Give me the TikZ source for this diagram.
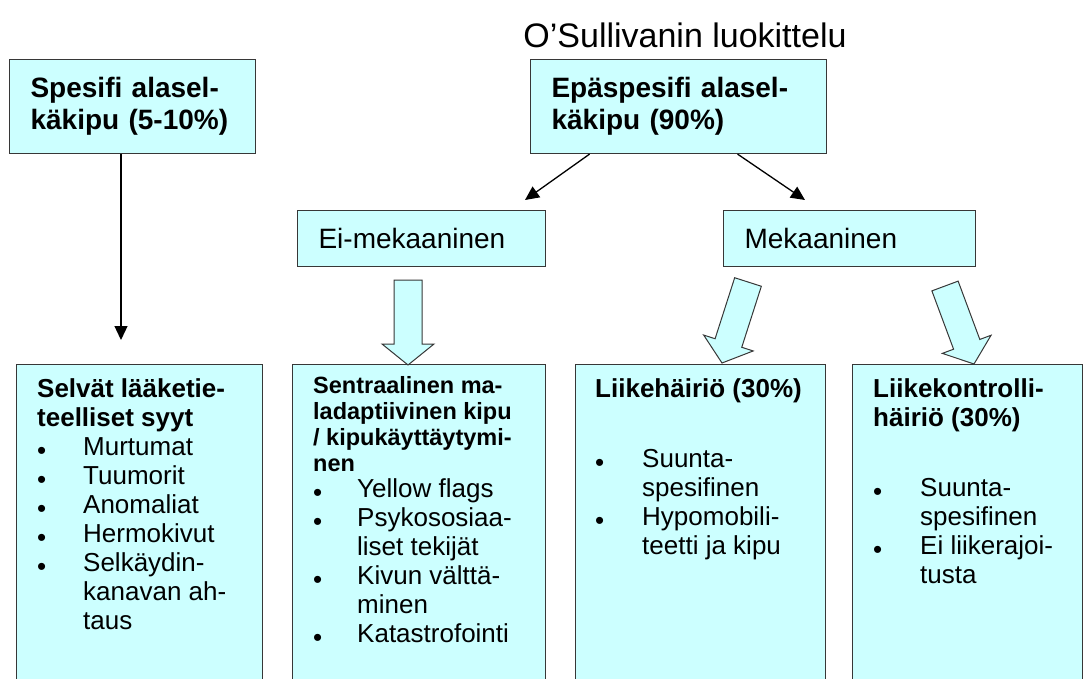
\documentclass[tikz,border=0pt]{standalone}
\usepackage{fontspec}
\setmainfont{Liberation Sans}
\usetikzlibrary{arrows.meta,calc,positioning}
\definecolor{boxcyan}{RGB}{204,255,255}
\definecolor{edgegray}{RGB}{55,55,55}
\newcommand{\fsz}[2]{\fontsize{#1}{#2}\selectfont}
\newcommand{\hdr}[1]{\multicolumn{2}{@{}l@{}}{\bfseries #1}}
\newcommand{\hdrs}[1]{\multicolumn{2}{@{}l@{}}{\fsz{23.5}{26}\bfseries #1}}
\newcommand{\blt}{\raisebox{-4pt}{\fsz{26}{26}\textbullet}}
% hollow block arrow from #1 to #2
\newcommand{\blockarr}[2]{%
  \coordinate (ba-h) at ($(#2)!21pt!(#1)$);
  \draw[blockarr] ($(#1)!14pt!90:(#2)$) -- ($(ba-h)!14pt!90:(#2)$)
    -- ($(ba-h)!26pt!90:(#2)$) -- (#2) -- ($(ba-h)!26pt!-90:(#2)$)
    -- ($(ba-h)!14pt!-90:(#2)$) -- ($(#1)!14pt!-90:(#2)$) -- cycle;
}
\tikzset{
  topbox/.style  = {draw=edgegray, fill=boxcyan, line width=1.1pt, anchor=north west,
                    align=left, inner xsep=21pt, inner ysep=0pt, font=\fsz{28}{32}\bfseries},
  midbox/.style  = {topbox, font=\fsz{28}{32}},
  lowbox/.style  = {draw=edgegray, fill=boxcyan, line width=1.1pt, anchor=north west,
                    inner sep=0pt, minimum height=340pt},
  lowtext/.style = {anchor=north west, inner sep=0pt, font=\fsz{26}{29}},
  thinarr/.style = {-{Triangle[length=14pt,width=13pt]}, line width=1.3pt},
  blockarr/.style= {draw=edgegray, fill=boxcyan, line width=1pt, line join=miter}
}

\begin{document}
\begin{tikzpicture}[x=1pt,y=-1pt]
  \useasboundingbox (0,0) rectangle (1091,679);
  \clip (0,0) rectangle (1091,679);

  \node[font=\fsz{34}{38}] (title) at (685,35) {O’Sullivanin luokittelu};

  % upper level
  \node[topbox, text width=204pt, minimum height=94pt] (spec)    at (9,59)   {Spesifi alasel-\\käkipu (5-10\%)};
  \node[topbox, text width=254pt, minimum height=94pt] (nonspec) at (530,59) {Epäspesifi alasel-\\käkipu (90\%)};
  \node[midbox, text width=206pt, minimum height=56pt] (nonmech) at (297,210) {Ei-mekaaninen};
  \node[midbox, text width=210pt, minimum height=56pt] (mech)    at (723,210) {Mekaaninen};

  % lower level
  \node[lowbox, minimum width=246pt] (medic)   at (16,364)  {};
  \node[lowbox, minimum width=253pt] (central) at (292,364) {};
  \node[lowbox, minimum width=250pt] (move)    at (575,364) {};
  \node[lowbox, minimum width=230pt] (control) at (852,364) {};

  \node[lowtext] (medic-txt) at (37,377) {\begin{tabular}{@{}p{46pt}@{}l@{}}
    \hdr{Selvät lääketie-}\\
    \hdr{teelliset syyt}\\
    \blt & Murtumat\\
    \blt & Tuumorit\\
    \blt & Anomaliat\\
    \blt & Hermokivut\\
    \blt & Selkäydin-\\
         & kanavan ah-\\
         & taus
  \end{tabular}};
  \node[lowtext] (central-txt) at (313,373) {\begin{tabular}{@{}p{44pt}@{}l@{}}
    \hdrs{Sentraalinen ma-}\\[-3pt]
    \hdrs{ladaptiivinen kipu}\\[-3pt]
    \hdrs{/ kipukäyttäytymi-}\\[-3pt]
    \hdrs{nen}\\[-3pt]
    \blt & Yellow flags\\
    \blt & Psykososiaa-\\
         & liset tekijät\\
    \blt & Kivun välttä-\\
         & minen\\
    \blt & Katastrofointi
  \end{tabular}};
  \node[lowtext] (move-txt) at (595,377) {\begin{tabular}{@{}p{47pt}@{}l@{}}
    \hdr{Liikehäiriö (30\%)}\\[41pt]
    \blt & Suunta-\\
         & spesifinen\\
    \blt & Hypomobili-\\
         & teetti ja kipu
  \end{tabular}};
  \node[lowtext] (control-txt) at (873,377) {\begin{tabular}{@{}p{47pt}@{}l@{}}
    \hdr{Liikekontrolli-}\\
    \hdr{häiriö (30\%)}\\[41pt]
    \blt & Suunta-\\
         & spesifinen\\
    \blt & Ei liikerajoi-\\
         & tusta
  \end{tabular}};

  % thin arrows
  \coordinate (spec-tip)    at (121,340);
  \coordinate (nonmech-tip) at (525,200);
  \coordinate (mech-tip)    at (805,200);
  \draw[thinarr] (spec.south -| spec-tip) -- (spec-tip);
  \draw[thinarr] ([xshift=-89pt]nonspec.south) -- (nonmech-tip);
  \draw[thinarr] ([xshift=59pt]nonspec.south) -- (mech-tip);

  % block arrows
  \coordinate (central-from) at (408,280);
  \coordinate (central-to)   at (408,365);
  \coordinate (move-from)    at (748,282);
  \coordinate (move-to)      at (722,363);
  \coordinate (control-from) at (945,286);
  \coordinate (control-to)   at (974,364);
  \blockarr{central-from}{central-to}
  \blockarr{move-from}{move-to}
  \blockarr{control-from}{control-to}
\end{tikzpicture}
\end{document}
